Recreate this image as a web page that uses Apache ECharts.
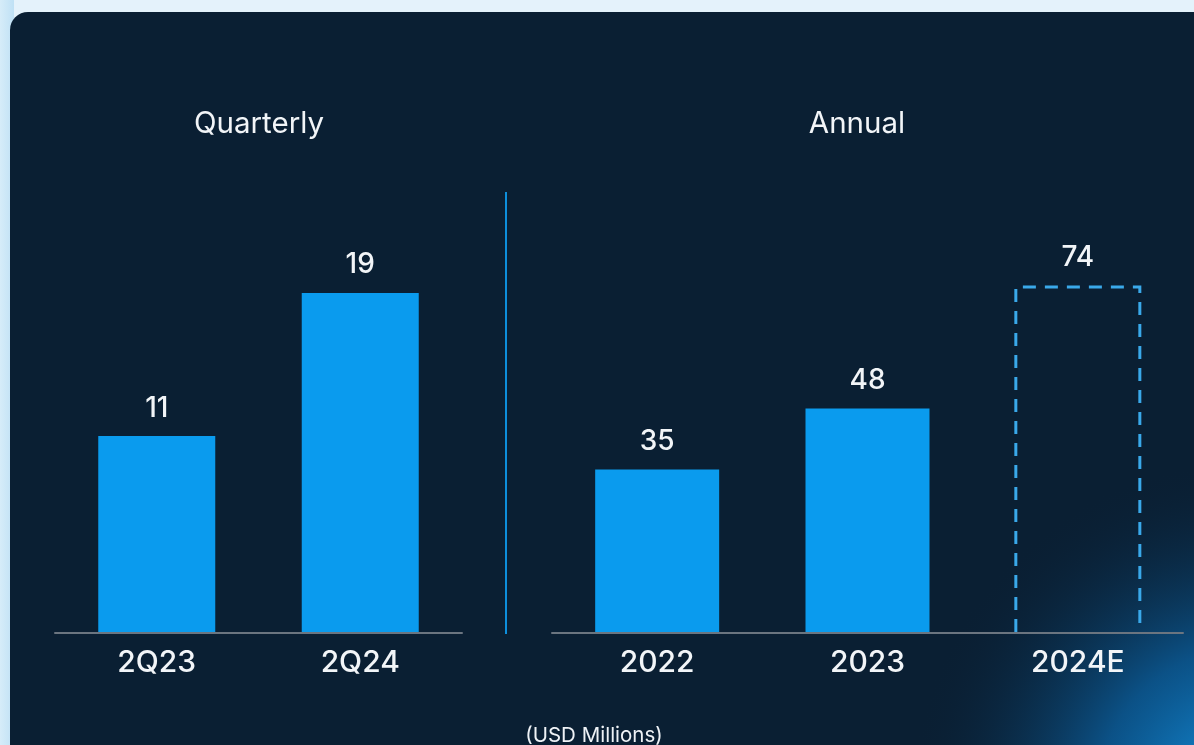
<!DOCTYPE html>
<html>
<head>
<meta charset="utf-8">
<script src="https://cdn.jsdelivr.net/npm/echarts@6/dist/echarts.min.js"></script>
<style>
html,body{margin:0;padding:0;background:#e4f2fb;}
#c{width:1194px;height:745px;}
</style>
</head>
<body>
<div id="c"></div>
<script>
const quarterlyCategories = ['2Q23', '2Q24'];
const quarterlyValues = [11, 19];
const annualCategories = ['2022', '2023', '2024E'];
const annualValues = [35, 48, 74];
const estimateFlags = [false, false, true];
const panelTitles = ['Quarterly', 'Annual'];
const unitNote = '(USD Millions)';

const FONT = 'Inter, "Noto Sans", sans-serif';
const BAR = '#0a9bee';
const chart = echarts.init(document.getElementById('c'));

const annualActual = annualValues.map((v, i) => estimateFlags[i] ? '-' : v);
const annualEstimate = annualValues.map((v, i) => estimateFlags[i] ? [i, v] : null).filter(d => d);

const labelStyle = { show: true, position: 'top', distance: 14, color: '#f2f5f8', fontSize: 28, fontFamily: FONT, fontWeight: 500 };
const axisLabel = { color: '#f2f5f8', fontSize: 30, fontFamily: FONT, fontWeight: 500, margin: 15 };
const axisLine = { show: true, lineStyle: { color: '#6b7580', width: 2 } };

chart.setOption({
  backgroundColor: '#e4f2fb',
  animation: false,
  graphic: [
    { type: 'rect', z: -10, shape: { x: 0, y: 0, width: 14, height: 745 },
      style: { fill: new echarts.graphic.LinearGradient(0, 0, 1, 0, [{ offset: 0, color: '#d6ecf9' }, { offset: 1, color: '#bfe1f5' }]) } },
    { type: 'rect', z: -9, shape: { x: 10, y: 12, width: 1220, height: 780, r: 18 }, style: { fill: '#0a1f33' } },
    { type: 'rect', z: -8, shape: { x: 10, y: 12, width: 1220, height: 780, r: 18 },
      style: { fill: new echarts.graphic.RadialGradient(1250, 800, 340, [
        { offset: 0, color: 'rgba(22,155,235,1)' },
        { offset: 0.45, color: 'rgba(12,115,190,0.6)' },
        { offset: 1, color: 'rgba(10,31,51,0)' }], true) } },
    { type: 'line', z: -5, shape: { x1: 506, y1: 192, x2: 506, y2: 634 }, style: { stroke: '#0d8fdc', lineWidth: 2 } },
    { type: 'text', z: 5, style: { x: 594, y: 736, text: unitNote, textAlign: 'center', textVerticalAlign: 'middle', fill: '#eef2f6', fontSize: 20.5, fontFamily: FONT } }
  ],
  title: [
    { text: panelTitles[0], left: 259, top: 109, padding: 0, textAlign: 'center', textStyle: { color: '#f2f5f8', fontSize: 29.5, fontWeight: 'normal', fontFamily: FONT } },
    { text: panelTitles[1], left: 857, top: 109, padding: 0, textAlign: 'center', textStyle: { color: '#f2f5f8', fontSize: 29.5, fontWeight: 'normal', fontFamily: FONT } }
  ],
  grid: [
    { left: 55, width: 407, top: 275, bottom: 112 },
    { left: 552, width: 631, top: 259, bottom: 112 }
  ],
  xAxis: [
    { type: 'category', gridIndex: 0, data: quarterlyCategories, z: 5, axisLine, axisTick: { show: false }, axisLabel },
    { type: 'category', gridIndex: 1, data: annualCategories, z: 5, axisLine, axisTick: { show: false }, axisLabel }
  ],
  yAxis: [
    { type: 'value', gridIndex: 0, min: 0, max: 20, show: false, splitLine: { show: false } },
    { type: 'value', gridIndex: 1, min: 0, max: 80, show: false, splitLine: { show: false } }
  ],
  series: [
    { type: 'bar', xAxisIndex: 0, yAxisIndex: 0, data: quarterlyValues, barWidth: 117, itemStyle: { color: BAR }, label: labelStyle },
    { type: 'bar', xAxisIndex: 1, yAxisIndex: 1, data: annualActual, barWidth: 124, itemStyle: { color: BAR }, label: labelStyle },
    { type: 'custom', xAxisIndex: 1, yAxisIndex: 1, data: annualEstimate, z: 3,
      renderItem: function (params, api) {
        const val = api.value(1);
        const top = api.coord([api.value(0), val]);
        const base = api.coord([api.value(0), 0]);
        const half = 124 / 2;
        return {
          type: 'group',
          children: [
            { type: 'rect', shape: { x: top[0] - half, y: top[1], width: half * 2, height: base[1] - top[1] }, style: { fill: 'rgba(0,0,0,0)' } },
            { type: 'polyline',
              shape: { points: [[top[0] - half, base[1] - 1], [top[0] - half, top[1]], [top[0] + half, top[1]], [top[0] + half, base[1] - 1]] },
              style: { stroke: '#3aa9ea', lineWidth: 3, lineDash: [13, 9], fill: null } },
            { type: 'text', style: { x: top[0], y: top[1] - 15, text: String(val), textAlign: 'center', textVerticalAlign: 'bottom', fill: '#f2f5f8', fontSize: 28, fontFamily: FONT, fontWeight: 500 } }
          ]
        };
      },
      encode: { x: 0, y: 1 }
    }
  ]
});
</script>
</body>
</html>
